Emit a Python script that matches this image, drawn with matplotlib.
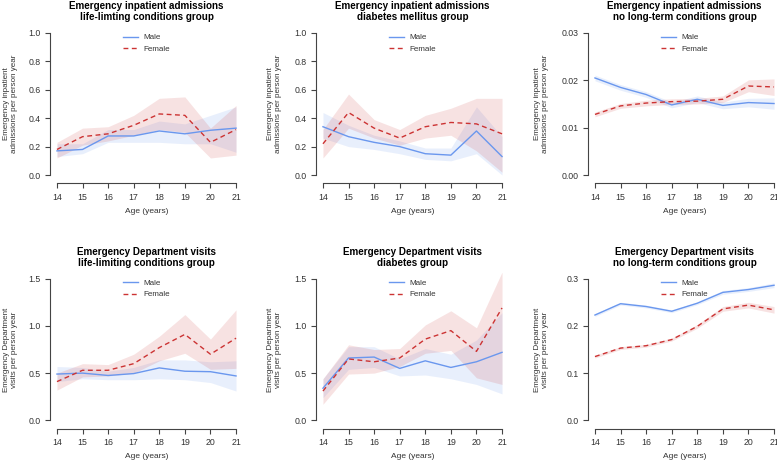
import numpy as np
import matplotlib
matplotlib.use("Agg")
import matplotlib.pyplot as plt

plt.rcParams['font.family'] = ['Liberation Sans', 'DejaVu Sans']

# ages on the x axis
ages = [14, 15, 16, 17, 18, 19, 20, 21]

# panel titles / y labels
titles = ["Emergency inpatient admissions\nlife-limting conditions group",
          "Emergency inpatient admissions\ndiabetes mellitus group",
          "Emergency inpatient admissions\nno long-term conditions group",
          "Emergency Department visits\nlife-limiting conditions group",
          "Emergency Department visits\ndiabetes group",
          "Emergency Department visits\nno long-term conditions group"]
ylabels = ["Emergency inpatient\nadmissions per person year"] * 3 + \
          ["Emergency Department\nvisits per person year"] * 3

# y ranges and ticks for each panel
ymax = [1.0, 1.0, 0.03, 1.5, 1.5, 0.3]
yticks = [[0, 0.2, 0.4, 0.6, 0.8, 1.0],
          [0, 0.2, 0.4, 0.6, 0.8, 1.0],
          [0, 0.01, 0.02, 0.03],
          [0, 0.5, 1.0, 1.5],
          [0, 0.5, 1.0, 1.5],
          [0, 0.1, 0.2, 0.3]]
ytick_fmt = ["%.1f", "%.1f", "%.2f", "%.1f", "%.1f", "%.1f"]

# male: estimate, lower, upper
male = [
    [0.17, 0.18, 0.275, 0.275, 0.31, 0.29, 0.315, 0.33],
    [0.34, 0.27, 0.23, 0.20, 0.15, 0.14, 0.31, 0.13],
    [0.0205, 0.0185, 0.0170, 0.0148, 0.0160, 0.0147, 0.0153, 0.0151],
    [0.49, 0.50, 0.475, 0.495, 0.555, 0.52, 0.515, 0.47],
    [0.34, 0.66, 0.67, 0.55, 0.63, 0.56, 0.62, 0.72],
    [0.223, 0.247, 0.241, 0.231, 0.248, 0.271, 0.277, 0.286],
]
male_lo = [
    [0.13, 0.15, 0.23, 0.23, 0.23, 0.22, 0.22, 0.16],
    [0.26, 0.20, 0.18, 0.15, 0.11, 0.10, 0.15, 0.00],
    [0.0199, 0.0179, 0.0164, 0.0142, 0.0153, 0.0140, 0.0144, 0.0139],
    [0.41, 0.44, 0.43, 0.43, 0.44, 0.43, 0.40, 0.31],
    [0.24, 0.54, 0.56, 0.47, 0.48, 0.44, 0.38, 0.28],
    [0.220, 0.244, 0.238, 0.228, 0.245, 0.267, 0.273, 0.281],
]
male_hi = [
    [0.22, 0.22, 0.32, 0.32, 0.38, 0.36, 0.42, 0.48],
    [0.44, 0.35, 0.28, 0.24, 0.19, 0.19, 0.48, 0.27],
    [0.0211, 0.0191, 0.0176, 0.0154, 0.0167, 0.0154, 0.0162, 0.0163],
    [0.57, 0.56, 0.52, 0.56, 0.64, 0.64, 0.62, 0.63],
    [0.44, 0.78, 0.78, 0.65, 0.76, 0.70, 0.85, 1.14],
    [0.226, 0.250, 0.244, 0.234, 0.251, 0.275, 0.281, 0.291],
]

# female: estimate, lower, upper
female = [
    [0.18, 0.27, 0.29, 0.35, 0.43, 0.42, 0.23, 0.32],
    [0.22, 0.44, 0.33, 0.26, 0.34, 0.37, 0.36, 0.29],
    [0.0128, 0.0146, 0.0152, 0.0155, 0.0156, 0.0160, 0.0188, 0.0186],
    [0.41, 0.53, 0.53, 0.60, 0.77, 0.91, 0.70, 0.87],
    [0.31, 0.65, 0.62, 0.66, 0.86, 0.95, 0.73, 1.19],
    [0.135, 0.153, 0.158, 0.171, 0.199, 0.236, 0.244, 0.234],
]
female_lo = [
    [0.12, 0.21, 0.24, 0.28, 0.32, 0.30, 0.12, 0.14],
    [0.12, 0.33, 0.26, 0.21, 0.26, 0.28, 0.17, 0.02],
    [0.0123, 0.0141, 0.0146, 0.0149, 0.0150, 0.0153, 0.0176, 0.0168],
    [0.32, 0.46, 0.47, 0.50, 0.63, 0.71, 0.54, 0.55],
    [0.17, 0.49, 0.50, 0.57, 0.71, 0.74, 0.45, 0.38],
    [0.132, 0.150, 0.155, 0.168, 0.195, 0.231, 0.238, 0.227],
]
female_hi = [
    [0.23, 0.33, 0.34, 0.42, 0.54, 0.55, 0.33, 0.49],
    [0.32, 0.57, 0.39, 0.32, 0.42, 0.47, 0.54, 0.54],
    [0.0133, 0.0151, 0.0158, 0.0161, 0.0162, 0.0167, 0.0201, 0.0203],
    [0.50, 0.60, 0.59, 0.70, 0.89, 1.12, 0.86, 1.17],
    [0.44, 0.80, 0.75, 0.76, 1.01, 1.16, 0.98, 1.57],
    [0.138, 0.156, 0.161, 0.174, 0.203, 0.241, 0.250, 0.241],
]

male_col = '#6a97ee'
fem_col = '#cc3333'
txt = '#333333'

W, H = 777, 462
fig = plt.figure(figsize=(W / 100, H / 100), dpi=100)

# axes boxes in pixels: left, (top, bottom) per row
lefts = [49.8, 315.8, 587.8]
row_tb = [(27.3, 180.7), (273.0, 426.0)]
label_x = [-0.165, -0.175, -0.20]

for i in range(6):
    r, c = divmod(i, 3)
    l = lefts[c]
    t, b = row_tb[r]
    ax = fig.add_axes([l / W, 1 - b / H, 193.4 / W, (b - t) / H])
    ax.patch.set_alpha(0)

    ax.fill_between(ages, male_lo[i], male_hi[i], color=male_col, alpha=0.15, lw=0)
    ax.fill_between(ages, female_lo[i], female_hi[i], color=fem_col, alpha=0.14, lw=0)
    ax.plot(ages, male[i], color=male_col, lw=1.0, label='Male')
    ax.plot(ages, female[i], color=fem_col, lw=1.0, ls=(0, (3.5, 2.5)), label='Female')

    pad = ymax[i] * 0.04
    ax.set_ylim(-pad, ymax[i] + pad)
    ax.set_xlim(13.72, 21.28)
    ax.set_xticks(ages)
    ax.set_yticks(yticks[i])
    ax.set_yticklabels([ytick_fmt[i] % v for v in yticks[i]])

    for s in ['top', 'right']:
        ax.spines[s].set_visible(False)
    ax.spines['left'].set_bounds(0, ymax[i])
    ax.spines['bottom'].set_bounds(14, 21)
    ax.spines['bottom'].set_position(('outward', 2))
    for s in ['left', 'bottom']:
        ax.spines[s].set_color('#444444')
        ax.spines[s].set_linewidth(0.8)
    ax.tick_params(colors='#444444', labelcolor=txt, labelsize=6.3, length=3.5, width=0.8)
    ax.tick_params(axis='x', pad=3)
    ax.tick_params(axis='y', pad=3)

    ax.set_title(titles[i], fontsize=7.1, fontweight='bold', color='black', pad=5,
                 linespacing=1.15)
    ax.set_xlabel('Age (years)', fontsize=6.0, color=txt, labelpad=4.5)
    ax.set_ylabel(ylabels[i], fontsize=5.8, color=txt, linespacing=1.25)
    ax.yaxis.set_label_coords(label_x[c], 0.5)

    leg = ax.legend(loc='upper center', bbox_to_anchor=(0.5, 1.0), frameon=False,
                    fontsize=5.8, handlelength=1.9, handletextpad=0.75,
                    labelspacing=0.45, borderpad=0.3)
    for tx in leg.get_texts():
        tx.set_color(txt)

fig.savefig('out.png', dpi=100)
